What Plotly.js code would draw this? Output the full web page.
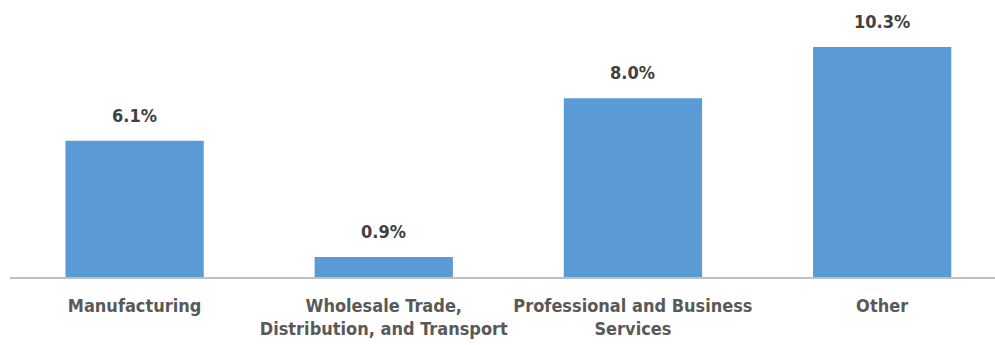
<!DOCTYPE html>
<html>
<head>
<meta charset="utf-8">
<script src="https://cdn.plot.ly/plotly-3.0.1.min.js"></script>
<style>html,body{margin:0;padding:0;background:#fff;}#chart{width:995px;height:345px;}</style>
</head>
<body>
<div id="chart"></div>
<script>
const categories = ["Manufacturing", "Wholesale Trade,<br>Distribution, and Transport", "Professional and Business<br>Services", "Other"];
const values = [6.1, 0.9, 8.0, 10.3];
const valueLabels = ["6.1%", "0.9%", "8.0%", "10.3%"];

const FONT = '"DejaVu Sans Condensed", "Roboto", sans-serif';

const trace = {
  type: 'bar',
  x: categories,
  y: values,
  marker: {color: '#5B9BD5'},
  hoverinfo: 'skip'
};

const annotations = categories.map((c, i) => ({
  x: c, y: values[i], xref: 'x', yref: 'y',
  text: '<b>' + valueLabels[i] + '</b>',
  showarrow: false, yanchor: 'bottom', yshift: 13,
  font: {family: FONT, size: 18, color: '#404040'}
}));

const layout = {
  width: 995, height: 345,
  margin: {l: 10, r: 0, t: 9, b: 68},
  paper_bgcolor: '#fff', plot_bgcolor: '#fff',
  bargap: 0.445,
  showlegend: false,
  xaxis: {
    type: 'category',
    range: [-0.5, 3.453],
    showline: true, linecolor: '#C0C0C0', linewidth: 2,
    ticks: '', showgrid: false, zeroline: false,
    tickangle: 0,
    ticklabelstandoff: 11,
    tickfont: {family: FONT, size: 18, color: '#595959', weight: 'bold'}
  },
  yaxis: {
    range: [0, 12],
    visible: false, showgrid: false, zeroline: false
  },
  annotations: annotations
};

Plotly.newPlot('chart', [trace], layout, {displayModeBar: false, staticPlot: true});
</script>
</body>
</html>
